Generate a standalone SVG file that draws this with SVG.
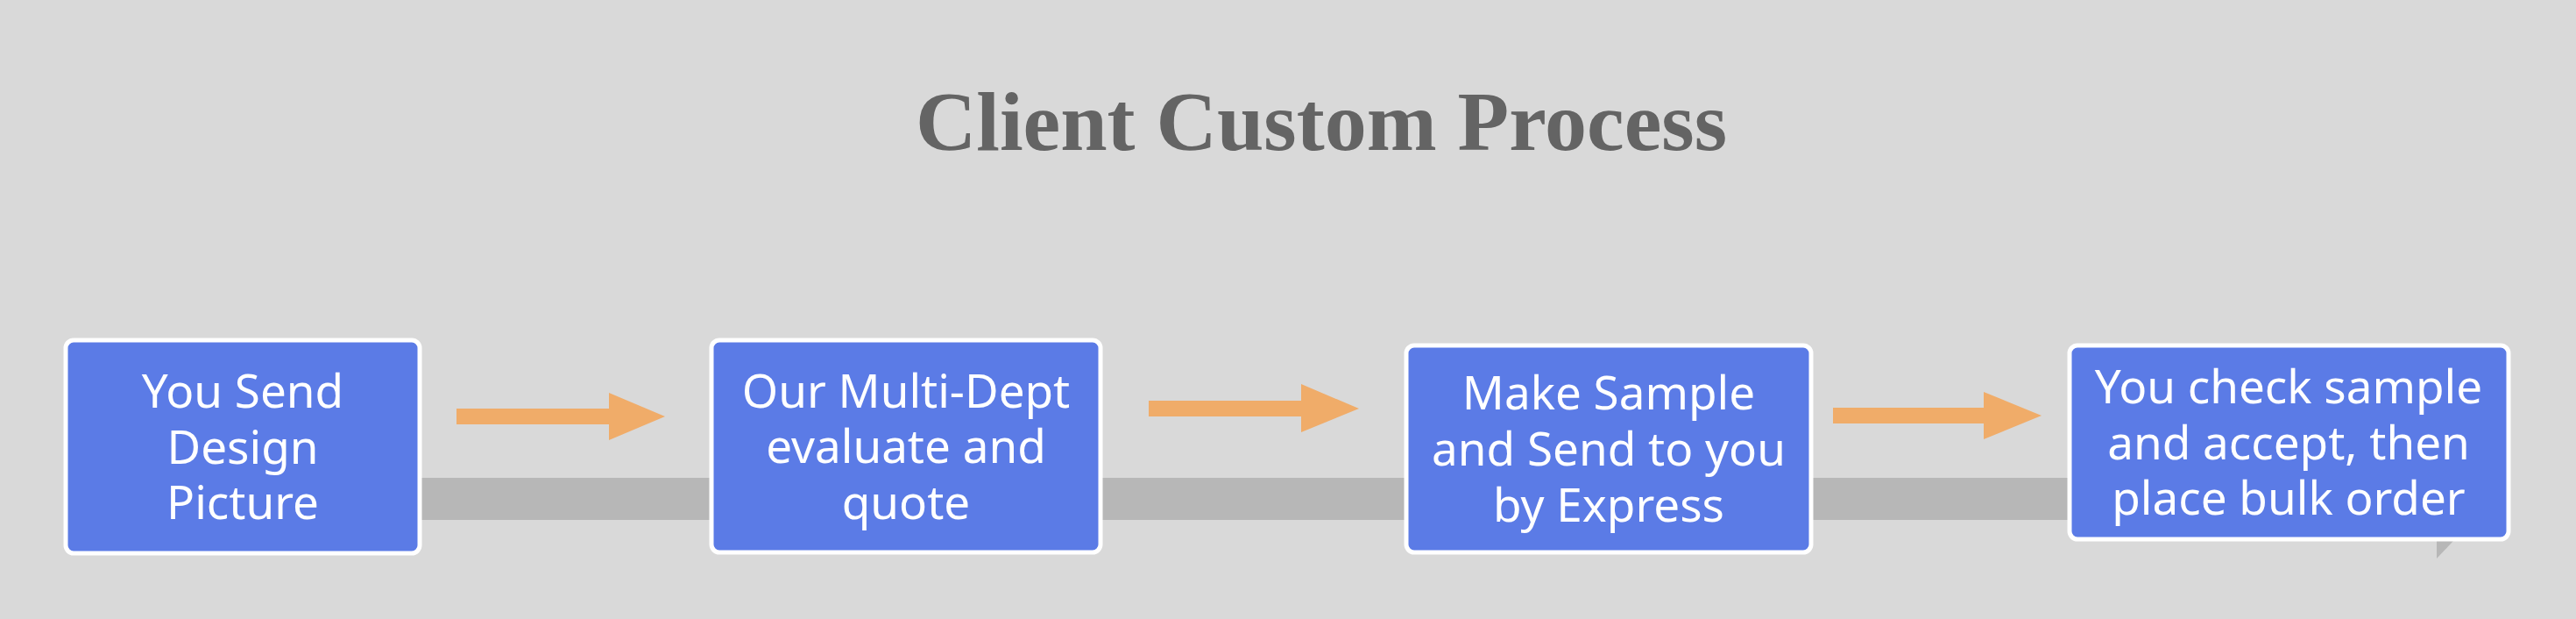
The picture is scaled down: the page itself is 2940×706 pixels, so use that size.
<svg xmlns="http://www.w3.org/2000/svg" width="2940" height="706" viewBox="0 0 2940 706">
<style>
.box{fill:#5b7be6;stroke:#ffffff;stroke-width:5}
.lbl{font-family:"Noto Sans","Open Sans",sans-serif;font-size:53px;fill:#ffffff;text-anchor:middle}
.arrow{fill:#f0ac69}
.title{font-family:"Liberation Serif","Times New Roman",serif;font-weight:bold;font-size:96px;fill:#646464;text-anchor:middle}
</style>
<rect x="0" y="0" width="2940" height="706" fill="#d9d9d9"/>
<text class="title" x="1508" y="171">Client Custom Process</text>
<rect x="470" y="545" width="1900" height="48" fill="#b7b7b7"/>
<polygon points="2781,617 2800,617 2781,637" fill="#b7b7b7"/>
<g id="connectors">
<polygon class="arrow" points="521,466 695,466 695,448 759,475 695,502 695,484 521,484"/>
<polygon class="arrow" points="1311,457 1485,457 1485,438 1551,466 1485,493 1485,475 1311,475"/>
<polygon class="arrow" points="2092,465 2264,465 2264,447 2330,474 2264,501 2264,483 2092,483"/>
</g>
<g id="node1">
<rect class="box" x="75" y="388" width="404" height="243" rx="9"/>
<text class="lbl" x="277" y="465">You Send</text>
<text class="lbl" x="277" y="529">Design</text>
<text class="lbl" x="277" y="592">Picture</text>
</g>
<g id="node2">
<rect class="box" x="812" y="388" width="444" height="242" rx="9"/>
<text class="lbl" x="1034" y="465">Our Multi-Dept</text>
<text class="lbl" x="1034" y="528">evaluate and</text>
<text class="lbl" x="1034" y="592">quote</text>
</g>
<g id="node3">
<rect class="box" x="1605" y="394" width="462" height="236" rx="9"/>
<text class="lbl" x="1836" y="467">Make Sample</text>
<text class="lbl" x="1836" y="531">and Send to you</text>
<text class="lbl" x="1836" y="595">by Express</text>
</g>
<g id="node4">
<rect class="box" x="2362" y="394" width="501" height="221" rx="9"/>
<text class="lbl" x="2612" y="460">You check sample</text>
<text class="lbl" x="2612" y="524">and accept, then</text>
<text class="lbl" x="2612" y="587">place bulk order</text>
</g>
</svg>
